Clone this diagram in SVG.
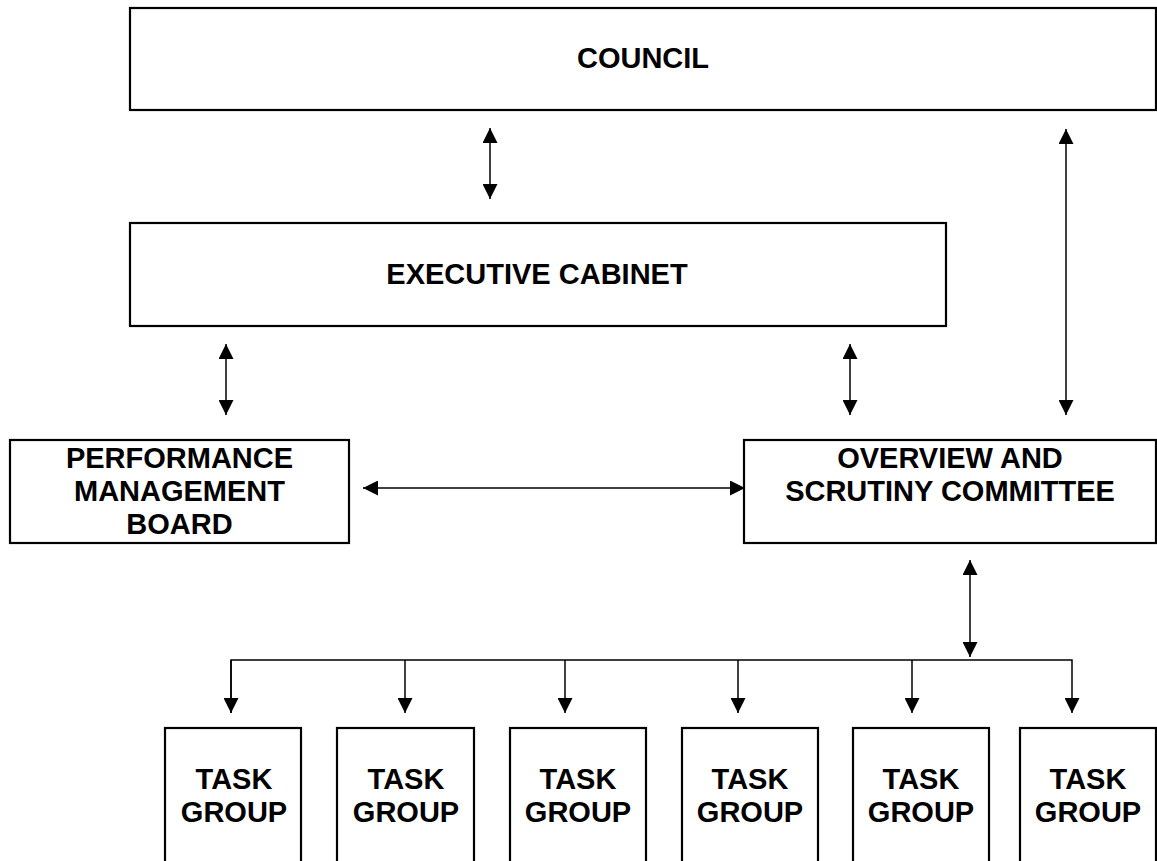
<svg xmlns="http://www.w3.org/2000/svg" width="1157" height="861" viewBox="0 0 1157 861">
<defs>
<style>
.box{fill:#fff;stroke:#000;stroke-width:2.2}
.t{font-family:"Liberation Sans",Arial,sans-serif;font-weight:bold;font-size:29px;fill:#000;text-anchor:middle}
.c{fill:none;stroke:#000;stroke-width:1.5}
</style>
<marker id="ah" viewBox="0 0 15 15" refX="15" refY="7.5" markerWidth="15" markerHeight="15" markerUnits="userSpaceOnUse" orient="auto-start-reverse">
<path d="M0,0 L15,7.5 L0,15 z" fill="#000"/>
</marker>
</defs>
<rect width="1157" height="861" fill="#fff"/>
<g id="council"><rect class="box" x="130" y="8" width="1026" height="102"/><text class="t" x="643" y="68">COUNCIL</text></g>
<g id="exec"><rect class="box" x="130" y="223" width="816" height="103"/><text class="t" x="537" y="284">EXECUTIVE CABINET</text></g>
<g id="pmb"><rect class="box" x="10" y="440" width="339" height="103"/><text class="t" x="179.5" y="468">PERFORMANCE</text><text class="t" x="179.5" y="501">MANAGEMENT</text><text class="t" x="179.5" y="534">BOARD</text></g>
<g id="osc"><rect class="box" x="744" y="440" width="412" height="103"/><text class="t" x="950" y="468">OVERVIEW AND</text><text class="t" x="950" y="501">SCRUTINY COMMITTEE</text></g>
<g id="tg1"><rect class="box" x="165" y="728" width="136" height="160"/><text class="t" x="234" y="789">TASK</text><text class="t" x="234" y="822">GROUP</text></g>
<g id="tg2"><rect class="box" x="337" y="728" width="137" height="160"/><text class="t" x="406" y="789">TASK</text><text class="t" x="406" y="822">GROUP</text></g>
<g id="tg3"><rect class="box" x="510" y="728" width="136" height="160"/><text class="t" x="578" y="789">TASK</text><text class="t" x="578" y="822">GROUP</text></g>
<g id="tg4"><rect class="box" x="682" y="728" width="136" height="160"/><text class="t" x="750" y="789">TASK</text><text class="t" x="750" y="822">GROUP</text></g>
<g id="tg5"><rect class="box" x="853" y="728" width="136" height="160"/><text class="t" x="921" y="789">TASK</text><text class="t" x="921" y="822">GROUP</text></g>
<g id="tg6"><rect class="box" x="1020" y="728" width="136" height="160"/><text class="t" x="1088" y="789">TASK</text><text class="t" x="1088" y="822">GROUP</text></g>
<g id="connectors">
<line class="c" x1="490" y1="128" x2="490" y2="199" marker-start="url(#ah)" marker-end="url(#ah)"/>
<line class="c" x1="1066" y1="129" x2="1066" y2="415" marker-start="url(#ah)" marker-end="url(#ah)"/>
<line class="c" x1="226" y1="344" x2="226" y2="415" marker-start="url(#ah)" marker-end="url(#ah)"/>
<line class="c" x1="850" y1="344" x2="850" y2="415" marker-start="url(#ah)" marker-end="url(#ah)"/>
<line class="c" x1="363" y1="488" x2="745" y2="488" marker-start="url(#ah)" marker-end="url(#ah)"/>
<line class="c" x1="970" y1="560" x2="970" y2="657" marker-start="url(#ah)" marker-end="url(#ah)"/>
<polyline class="c" points="231,713 231,660 1072,660 1072,713" marker-end="url(#ah)"/>
<line class="c" x1="231" y1="660" x2="231" y2="713" marker-end="url(#ah)"/>
<line class="c" x1="405" y1="660" x2="405" y2="713" marker-end="url(#ah)"/>
<line class="c" x1="565" y1="660" x2="565" y2="713" marker-end="url(#ah)"/>
<line class="c" x1="738" y1="660" x2="738" y2="713" marker-end="url(#ah)"/>
<line class="c" x1="912" y1="660" x2="912" y2="713" marker-end="url(#ah)"/>
</g>
</svg>
